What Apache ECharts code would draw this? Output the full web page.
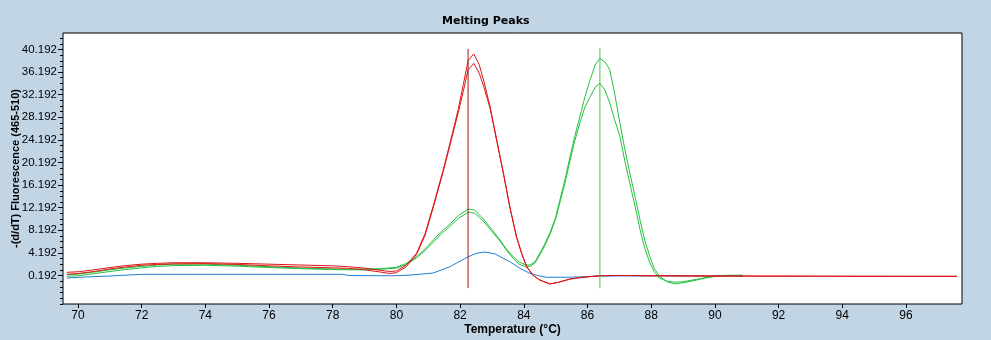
<!DOCTYPE html>
<html>
<head>
<meta charset="utf-8">
<script src="https://cdn.jsdelivr.net/npm/echarts@6/dist/echarts.min.js"></script>
<style>
html,body{margin:0;padding:0;background:#C2D5E5;}
#chart{width:991px;height:340px;}
</style>
</head>
<body>
<div id="chart"></div>
<script>
// ---- data ----
const xTicks = [70,72,74,76,78,80,82,84,86,88,90,92,94,96];
const yTicks = [0.192,4.192,8.192,12.192,16.192,20.192,24.192,28.192,32.192,36.192,40.192];

const red1T = [69.65,70,70.5,71,71.5,72,72.5,73,74,75,76,77,78,78.5,79,79.5,79.8,80,80.3,80.63,80.9,81.16,81.47,81.68,81.94,82.1,82.25,82.43,82.6,82.75,82.94,83.15,83.36,83.56,83.77,83.93,84.09,84.3,84.5,84.82,85.1,85.45,85.8,86.08,86.39,87,88,90,92,94,96,97.6];
const red1V = [0.76,0.85,1.2,1.6,1.95,2.2,2.35,2.45,2.45,2.35,2.2,2.05,1.9,1.75,1.5,1.1,0.9,1.0,2.0,4.1,7.6,12.6,18.9,23.6,29.6,34.0,38.2,39.4,37.5,34.5,30.1,24.2,18.3,12.4,7.1,4.2,1.75,0.2,-0.6,-1.3,-1.0,-0.43,-0.15,0.0,0.16,0.2,0.15,0.1,0.08,0.06,0.05,0.05];

const red2T = [69.65,70,70.5,71,71.5,72,72.5,73,74,75,76,77,78,78.5,79,79.5,79.8,80,80.3,80.63,80.9,81.16,81.47,81.68,81.94,82.1,82.25,82.43,82.6,82.75,82.94,83.15,83.36,83.56,83.77,83.93,84.09,84.3,84.5,84.82,85.1,85.45,85.8,86.08,86.39,87,88,90,92,94,96,97.6];
const red2V = [0.4,0.55,0.9,1.35,1.7,2.0,2.15,2.25,2.3,2.15,1.9,1.7,1.55,1.45,1.2,0.8,0.55,0.7,1.7,3.9,7.3,12.3,18.6,23.2,29.0,32.8,36.6,37.75,36.0,33.5,29.8,24.0,18.2,12.3,7.0,4.1,1.7,0.15,-0.6,-1.3,-1.0,-0.43,-0.15,0.0,0.16,0.2,0.15,0.1,0.08,0.06,0.05,0.05];

const green1T = [69.65,70,70.5,71,71.5,72,72.5,73,74,75,76,77,78,78.5,79,79.5,80,80.3,80.63,80.9,81.16,81.4,81.68,81.95,82.25,82.45,82.73,83.0,83.25,83.45,83.67,83.85,84.05,84.19,84.35,84.5,84.65,84.82,85.0,85.13,85.3,85.45,85.6,85.76,85.92,86.08,86.25,86.39,86.55,86.7,86.85,87.02,87.17,87.33,87.5,87.65,87.8,87.96,88.1,88.27,88.5,88.74,89.0,89.31,89.55,89.75,90.0,90.3,90.88];
const green1V = [0.35,0.45,0.8,1.2,1.55,1.8,2.05,2.2,2.2,2.0,1.75,1.5,1.35,1.3,1.35,1.4,1.65,2.3,3.5,4.9,6.5,7.9,9.3,10.8,11.96,11.8,10.2,8.3,6.5,4.9,3.5,2.6,2.1,2.05,2.6,4.1,5.7,7.7,10.5,13.5,17.3,21.2,24.8,28.3,31.8,34.8,37.6,38.6,38.0,36.6,32.5,27.1,22.6,18.3,14.0,10.0,6.4,3.5,1.4,0.0,-0.9,-1.3,-1.1,-0.75,-0.45,-0.2,0.05,0.2,0.23];

const green2T = [69.65,70,70.5,71,71.5,72,72.5,73,74,75,76,77,78,78.5,79,79.5,80,80.3,80.63,80.9,81.16,81.4,81.68,81.95,82.25,82.45,82.73,83.0,83.25,83.45,83.67,83.85,84.05,84.19,84.35,84.5,84.65,84.82,85.0,85.13,85.3,85.45,85.6,85.76,85.92,86.08,86.25,86.39,86.55,86.7,86.85,87.02,87.17,87.33,87.5,87.65,87.8,87.96,88.1,88.27,88.5,88.74,89.0,89.31,89.55,89.75,90.0,90.3,90.88];
const green2V = [0.05,0.15,0.5,0.9,1.25,1.55,1.8,1.95,2.0,1.85,1.6,1.4,1.25,1.2,1.2,1.3,1.5,2.1,3.3,4.6,6.1,7.5,8.9,10.3,11.4,11.25,9.8,8.0,6.3,4.7,3.2,2.2,1.75,1.8,2.4,3.8,5.4,7.4,10.2,13.0,16.7,20.5,24.0,27.2,30.0,31.8,33.6,34.2,33.0,30.7,27.8,24.8,20.5,16.5,12.3,8.3,5.0,2.4,0.8,-0.3,-0.8,-1.0,-0.9,-0.6,-0.35,-0.15,0.05,0.2,0.23];

const blueT = [69.65,70.2,71.0,72.0,73,76,78.3,78.5,79.5,80,80.5,81.15,81.68,82.25,82.5,82.78,83.1,83.56,83.9,84.19,84.5,84.73,85.5,86,86.4,88,90.88];
const blueV = [-0.25,-0.07,0.1,0.4,0.4,0.4,0.4,0.2,0.15,0.15,0.3,0.63,1.75,3.5,4.1,4.35,4.0,2.63,1.4,0.58,0.1,-0.13,-0.1,0.0,0.1,0.12,0.1];

const redMarkT = [82.25,82.25];
const redMarkV = [40.3,-2.05];
const greenMarkT = [86.39,86.39];
const greenMarkV = [40.4,-2.05];

// ---- build ----
const pairs = (t, v) => t.map((x, i) => [x, v[i]]);
const minorTicks = [];
for (let i = 0; i < yTicks.length; i++) {
  for (let k = -5; k < 4; k++) {
    if (k === 0) continue;
    if (k < 0 && i > 0) continue;
    minorTicks.push(+(yTicks[i] + k).toFixed(3));
  }
}

const yMin = -4.85, yMax = 43.11;
const lineSeries = (name, t, v, color, z) => ({
  name, type: 'line', data: pairs(t, v), showSymbol: false, smooth: false,
  lineStyle: { color, width: 1 }, z, animation: false
});

const chart = echarts.init(document.getElementById('chart'));
chart.setOption({
  backgroundColor: '#C2D5E5',
  animation: false,
  title: {
    text: 'Melting Peaks', left: 437, top: 11,
    textStyle: { fontFamily: 'DejaVu Sans', fontWeight: 'bold', fontSize: 11, color: '#000' }
  },
  grid: {
    left: 63, right: 29, top: 33, bottom: 36,
    show: true, backgroundColor: '#fff', borderColor: '#000', borderWidth: 1,
    outerBoundsMode: 'none'
  },
  xAxis: {
    type: 'value', min: 69.53, max: 97.76,
    name: 'Temperature (°C)', nameLocation: 'middle', nameGap: 20, nameMoveOverlap: false,
    nameTextStyle: { fontFamily: 'Liberation Sans', fontWeight: 'bold', fontSize: 12, color: '#000' },
    axisLine: { show: false, onZero: false },
    axisTick: { show: true, length: 4, customValues: xTicks, lineStyle: { color: '#000' } },
    axisLabel: { customValues: xTicks, margin: 6, fontFamily: 'Liberation Sans', fontSize: 12, color: '#000' },
    splitLine: { show: false }
  },
  yAxis: [{
    type: 'value', min: yMin, max: yMax,
    name: '-(d/dT) Fluorescence (465-510)', nameLocation: 'middle', nameGap: 42, nameMoveOverlap: false,
    nameTextStyle: { fontFamily: 'Liberation Sans', fontWeight: 'bold', fontSize: 11, color: '#000' },
    axisLine: { show: false, onZero: false },
    axisTick: { show: true, length: 5, customValues: yTicks, lineStyle: { color: '#000' } },
    axisLabel: { customValues: yTicks, margin: 6, fontFamily: 'Liberation Sans', fontSize: 11.5, color: '#000',
      formatter: v => v.toFixed(3) },
    splitLine: { show: false }
  }, {
    type: 'value', min: yMin, max: yMax, position: 'left',
    axisLine: { show: false, onZero: false },
    axisTick: { show: true, length: 3, customValues: minorTicks, lineStyle: { color: '#000' } },
    axisLabel: { show: false },
    splitLine: { show: false }
  }],
  series: [
    lineSeries('blue', blueT, blueV, '#1F7FD6', 2),
    lineSeries('green2', green2T, green2V, '#25C040', 3),
    lineSeries('green1', green1T, green1V, '#25C040', 3),
    lineSeries('red2', red2T, red2V, '#DD1515', 4),
    lineSeries('red1', red1T, red1V, '#DD1515', 4),
    { type: 'line', data: pairs(redMarkT, redMarkV), showSymbol: false, lineStyle: { color: '#A31818', width: 1 }, z: 5 },
    { type: 'line', data: pairs(greenMarkT, greenMarkV), showSymbol: false, lineStyle: { color: '#3CCB3C', width: 1 }, z: 5 }
  ]
});
</script>
</body>
</html>
